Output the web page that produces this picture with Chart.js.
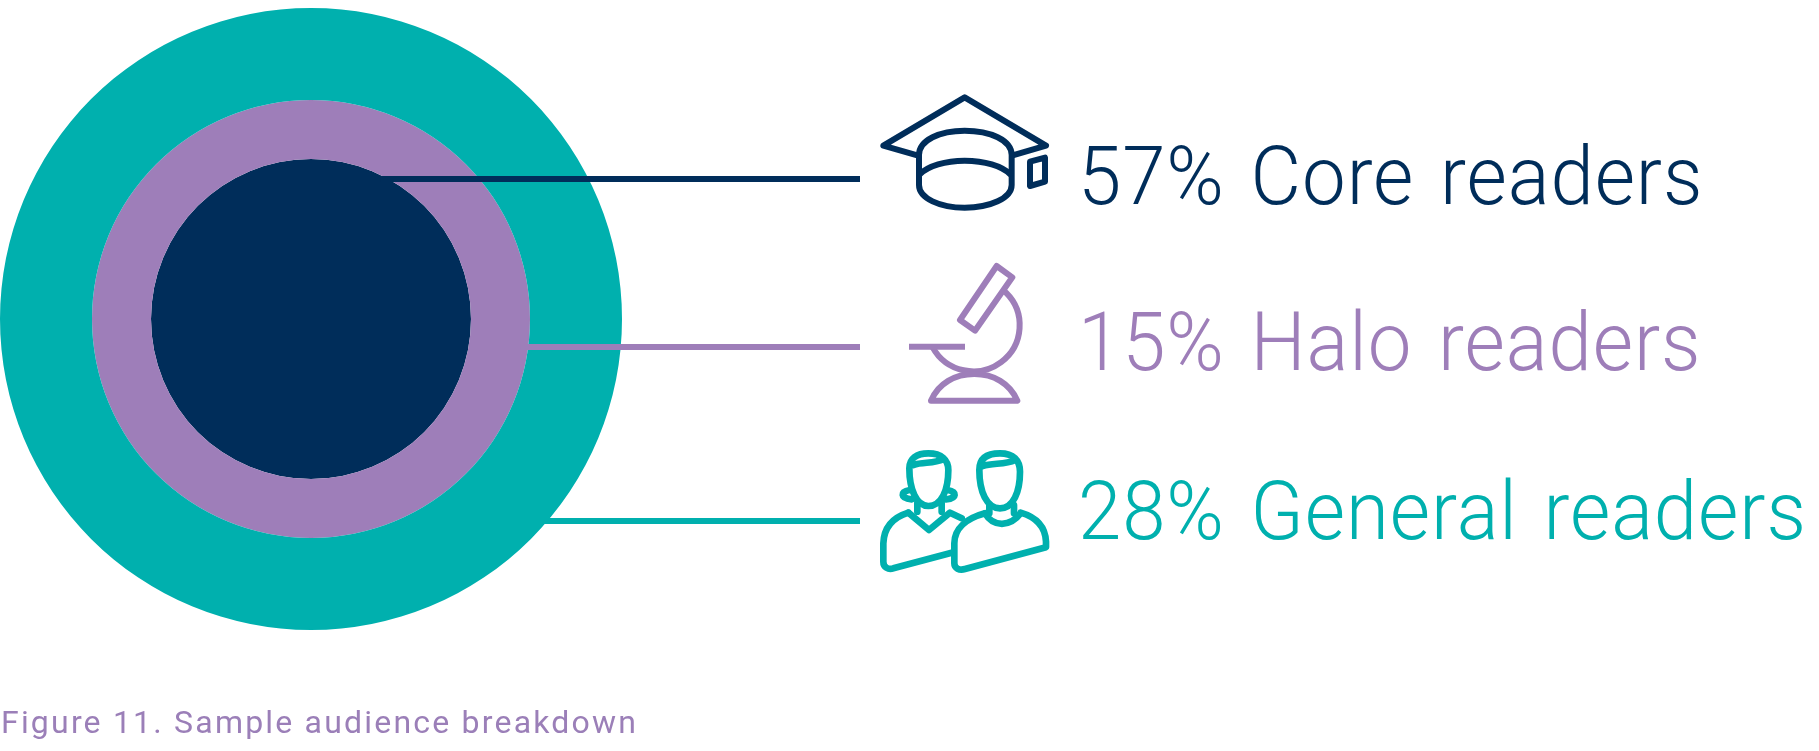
<!DOCTYPE html>
<html>
<head>
<meta charset="utf-8">
<title>Sample audience breakdown</title>
<script src="https://cdn.jsdelivr.net/npm/chart.js@4"></script>
<style>
  html, body { margin: 0; padding: 0; background: #fff; }
  #wrap { position: relative; width: 1819px; height: 751px; overflow: hidden; }
  #chart { position: absolute; left: 0; top: 0; }
  .label, .caption { position: absolute; white-space: nowrap; font-family: Roboto, sans-serif; line-height: 1; }
  .label { left: 1078px; font-size: 82px; font-weight: 300; letter-spacing: 1px; word-spacing: 6px; transform: scaleX(0.95); transform-origin: left top; }
  .caption { left: 1px; top: 706px; font-size: 32px; letter-spacing: 2.2px; color: #9b7fb8; }
  svg.icon { position: absolute; fill: none; stroke-linejoin: round; stroke-linecap: round; }
</style>
</head>
<body>
<div id="wrap">
  <canvas id="chart" width="1819" height="751"></canvas>

  <!-- cap -->
  <svg class="icon" style="left:860px;top:80px" width="240" height="150" viewBox="0 0 720 450" stroke="#002d5a" stroke-width="18">
    <path d="M172 226 L70 197 L314 52 L558 197 L458 226"/>
    <path d="M177 225 C177 180 240 152 314 152 C390 152 455 180 455 225 L455 315 C455 355 390 383 314 383 C240 383 177 355 177 315 Z"/>
    <path d="M180 282 C205 258 255 242 314 242 C375 242 425 258 450 282"/>
    <path d="M510 245 L555 233 L555 305 L510 318 Z"/>
  </svg>

  <!-- microscope -->
  <svg class="icon" style="left:880px;top:250px" width="200" height="160" viewBox="0 0 600 480" stroke="#9e7eb9" stroke-width="18">
    <path d="M350 48 L397 82 L285 242 L240 210 Z"/>
    <path d="M378 128 A139 138 0 1 1 158 292"/>
    <path d="M87 290 L255 290" stroke-width="18" stroke-linecap="butt"/>
    <path d="M153 452 C175 400 225 372 283 372 C340 372 390 400 412 452 Z"/>
  </svg>

  <!-- readers -->
  <svg class="icon" style="left:860px;top:430px" width="220" height="160" viewBox="0 0 660 480" stroke="#00b0ae" stroke-width="20">
    <path d="M148 115 C148 85 170 70 205 70 C245 70 265 90 265 120 C265 180 245 228 205 228 C170 228 148 180 148 115 Z"/>
    <path d="M160 105 C190 95 220 102 250 88"/>
    <path d="M150 180 C120 185 120 205 155 208 M262 180 C292 185 292 205 258 208"/>
    <path d="M172 218 L172 245 M245 218 L245 245"/>
    <path d="M145 248 C100 262 72 290 70 340 L70 395 C70 412 85 420 100 415 L275 368"/>
    <path d="M145 248 L207 300 L270 248 L305 265"/>
    <path d="M358 120 C358 85 380 70 420 70 C460 70 480 90 480 125 C480 185 460 235 420 235 C380 235 358 185 358 120 Z"/>
    <path d="M368 108 C400 98 435 105 465 90"/>
    <path d="M388 225 L388 250 M462 225 L462 250"/>
    <path d="M375 250 C320 265 283 295 283 340 L283 400 C283 415 298 422 315 417 L558 352 L558 335 C556 290 530 262 482 248"/>
    <path d="M375 250 C400 292 450 292 482 250"/>
  </svg>
</div>

<script>
const categories = ["Core readers", "Halo readers", "General readers"];
const shares = [57, 15, 28];
const captionText = "Figure 11. Sample audience breakdown";

const colors = ["#002d5a", "#9e7eb9", "#00b0ae"];
// ring thickness, outermost ring first
const ringWeights = [92, 59, 160];
const lineY = [179, 347, 521];
const labelTop = [135, 301, 470];
const lineEnd = 860;

const leaderLines = {
  id: "leaderLines",
  afterDraw(chart) {
    const c = chart.ctx;
    // rings are stacked outermost first, so category i is dataset 2 - i
    categories.forEach((cat, i) => {
      const arc = chart.getDatasetMeta(2 - i).data[0];
      const dy = lineY[i] - arc.y;
      // start a little inside the ring so the butt end doesn't show a notch
      const startX = arc.x + Math.sqrt(arc.outerRadius * arc.outerRadius - dy * dy) - 8;
      c.save();
      c.strokeStyle = colors[i];
      c.lineWidth = 6;
      c.beginPath();
      c.moveTo(startX, lineY[i]);
      c.lineTo(lineEnd, lineY[i]);
      c.stroke();
      c.restore();
    });
  },
};

new Chart(document.getElementById("chart"), {
  type: "doughnut",
  data: {
    labels: categories,
    datasets: [2, 1, 0].map((i, n) => ({
      label: categories[i],
      data: [shares[i]],
      backgroundColor: colors[i],
      borderWidth: 0,
      weight: ringWeights[n],
    })),
  },
  options: {
    responsive: false,
    animation: false,
    cutout: 0,
    layout: { padding: { left: 0, top: 8, right: 1197, bottom: 121 } },
    plugins: { legend: { display: false }, tooltip: { enabled: false } },
  },
  plugins: [leaderLines],
});

const wrap = document.getElementById("wrap");
categories.forEach((cat, i) => {
  const el = document.createElement("div");
  el.className = "label";
  el.style.top = labelTop[i] + "px";
  el.style.color = colors[i];
  el.textContent = shares[i] + "% " + cat;
  wrap.appendChild(el);
});
const cap = document.createElement("div");
cap.className = "caption";
cap.textContent = captionText;
wrap.appendChild(cap);
</script>
</body>
</html>
